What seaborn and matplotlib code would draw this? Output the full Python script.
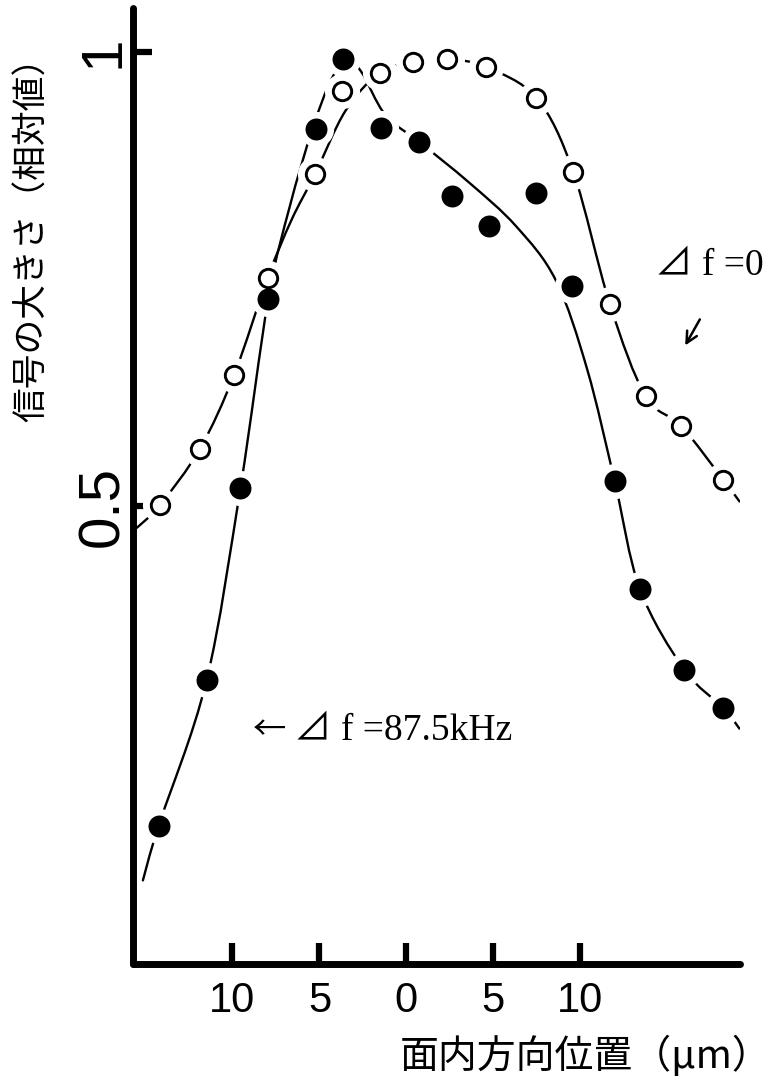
import numpy as np
import pandas as pd
import matplotlib
matplotlib.use("Agg")
import matplotlib.pyplot as plt
from matplotlib.path import Path
from matplotlib.patches import PathPatch
import seaborn as sns

# In-plane position (um) and relative signal magnitude, delta f = 0 (open circles)
pos_f0 = [-14.17, -11.87, -9.91, -7.98, -5.26, -3.72, -1.52, 0.39, 2.34,
          4.57, 7.48, 9.59, 11.70, 13.75, 15.80, 18.21]
sig_f0 = [0.501, 0.563, 0.644, 0.751, 0.865, 0.957, 0.977, 0.989, 0.992,
          0.983, 0.949, 0.868, 0.722, 0.621, 0.588, 0.529]

# delta f = 87.5 kHz (filled circles)
pos_f875 = [-14.25, -11.49, -9.54, -7.94, -5.20, -3.67, -1.47, 0.72, 2.60,
            4.76, 7.44, 9.51, 11.98, 13.42, 15.97, 18.21]
sig_f875 = [0.148, 0.308, 0.520, 0.728, 0.915, 0.992, 0.916, 0.901, 0.841,
            0.808, 0.844, 0.742, 0.527, 0.409, 0.320, 0.278]

# Hand-drawn fit curves (knots along each curve)
fit_f0_x = [-15.50, -14.17, -11.87, -9.91, -7.98, -6.60, -5.26, -3.50,
            -1.52, 0.39, 2.34, 4.57, 7.48, 9.59, 11.70, 13.75, 15.80,
            18.21, 19.15]
fit_f0_y = [0.476, 0.501, 0.563, 0.644, 0.751, 0.815, 0.865, 0.935,
            0.977, 0.989, 0.992, 0.983, 0.949, 0.868, 0.722, 0.621, 0.588,
            0.529, 0.505]

fit_f875_x = [-15.15, -14.25, -11.49, -9.54, -7.94, -6.70, -5.40, -4.30,
              -3.40, -2.60, -1.20, 0.72, 3.60, 6.30, 8.60, 10.40, 11.98,
              13.42, 15.97, 18.21, 19.15]
fit_f875_y = [0.088, 0.148, 0.308, 0.520, 0.728, 0.830, 0.915, 0.970,
              0.990, 0.978, 0.930, 0.901, 0.856, 0.808, 0.748, 0.650, 0.527,
              0.409, 0.320, 0.278, 0.255]

x_ticks = [-10, -5, 0, 5, 10]
x_ticklabels = ["10", "5", "0", "5", "10"]
y_ticks = [0.5, 1.0]
y_ticklabels = ["0.5", "1"]


def smooth_path(xs, ys):
    """Catmull-Rom curve through the knots, expressed as cubic Bezier segments."""
    p = np.column_stack([xs, ys]).astype(float)
    ext = np.vstack([p[0], p, p[-1]])
    verts = [tuple(p[0])]
    codes = [Path.MOVETO]
    for i in range(1, len(ext) - 2):
        p0, p1, p2, p3 = ext[i - 1], ext[i], ext[i + 1], ext[i + 2]
        c1 = p1 + (p2 - p0) / 6.0
        c2 = p2 - (p3 - p1) / 6.0
        verts += [tuple(c1), tuple(c2), tuple(p2)]
        codes += [Path.CURVE4] * 3
    return Path(verts, codes)


sns.set_theme(style="white")
plt.rcParams["font.family"] = ["Liberation Sans", "Noto Sans CJK JP", "DejaVu Sans"]
plt.rcParams.update({"text.color": "black", "axes.labelcolor": "black",
                     "xtick.color": "black", "ytick.color": "black"})

fig = plt.figure(figsize=(7.75, 10.83), dpi=100)
ax = fig.add_axes([0.1716, 0.1099, 0.783, 0.8827])

# fit curves
for fx, fy in ((fit_f0_x, fit_f0_y), (fit_f875_x, fit_f875_y)):
    ax.add_patch(PathPatch(smooth_path(fx, fy), facecolor="none",
                           edgecolor="black", lw=1.7, zorder=2,
                           capstyle="round"))

df0 = pd.DataFrame({"pos": pos_f0, "sig": sig_f0})
df1 = pd.DataFrame({"pos": pos_f875, "sig": sig_f875})

# white halos so the curves break around each point
for d in (df0, df1):
    sns.scatterplot(data=d, x="pos", y="sig", s=640, color="white",
                    linewidth=0, zorder=3, ax=ax, legend=False)

sns.scatterplot(data=df1, x="pos", y="sig", s=250, color="black",
                linewidth=0, zorder=4, ax=ax, legend=False)
sns.scatterplot(data=df0, x="pos", y="sig", s=175, facecolor="white",
                edgecolor="black", linewidth=2.1, zorder=5, ax=ax,
                legend=False)

ax.set_xlim(-15.72, 19.17)
ax.set_ylim(-0.004, 1.048)

# axes frame: heavy left and bottom lines only
for side in ("top", "right"):
    ax.spines[side].set_visible(False)
for side in ("left", "bottom"):
    ax.spines[side].set_linewidth(5.0)
    ax.spines[side].set_color("black")
    ax.spines[side].set_capstyle("round")

ax.set_xticks(x_ticks)
ax.set_xticklabels(x_ticklabels, fontsize=30)
ax.set_yticks(y_ticks)
ax.set_yticklabels(y_ticklabels, fontsize=42, rotation=90, va="center")
ax.tick_params(axis="x", direction="in", length=15, width=4.5, pad=12,
               color="black", bottom=True)
ax.tick_params(axis="y", direction="in", length=14, width=4.5, pad=2,
               color="black", left=True)

ax.set_xlabel("面内方向位置（μm）", fontsize=28,
              family=["Noto Sans CJK JP", "DejaVu Sans"])
ax.xaxis.set_label_coords(0.745, -0.097)
ax.xaxis.label.set_va("center")
ax.set_ylabel("信号の大きさ（相対値）", fontsize=25,
              family=["Noto Sans CJK JP", "DejaVu Sans"])
ax.yaxis.set_label_coords(-0.166, 0.767)
ax.yaxis.label.set_va("center")

serif = ["Liberation Serif", "Noto Sans CJK JP", "DejaVu Sans"]
ax.text(-8.85, 0.253, "←", fontsize=24,
        family=["Noto Sans CJK JP", "DejaVu Sans"], ha="left", va="center")
ax.text(-6.45, 0.253, "⊿ f =87.5kHz", fontsize=27, family=serif,
        ha="left", va="center")
ax.text(14.28, 0.764, "⊿ f =0", fontsize=27, family=serif,
        ha="left", va="center")
ax.annotate("", xy=(15.95, 0.674), xytext=(16.95, 0.708),
            arrowprops=dict(arrowstyle="->", lw=1.8, color="black",
                            mutation_scale=20))

fig.savefig("out.png", dpi=100, facecolor="white")
